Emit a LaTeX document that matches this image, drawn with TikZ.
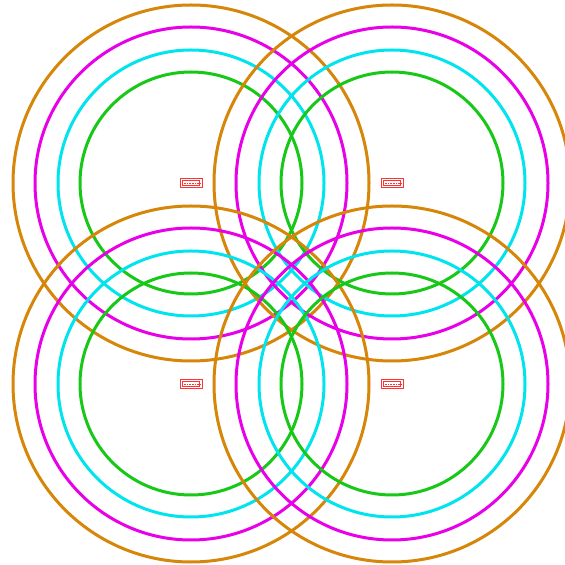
\documentclass[tikz,border=0pt]{standalone}
\begin{document}
\begin{tikzpicture}[x=1pt,y=1pt,
  ringO/.style={draw={rgb,255:red,214;green,134;blue,8}, line width=3pt},
  ringM/.style={draw={rgb,255:red,232;green,0;blue,232}, line width=3pt},
  ringC/.style={draw={rgb,255:red,0;green,228;blue,238}, line width=3pt},
  ringG/.style={draw={rgb,255:red,24;green,200;blue,24}, line width=3pt},
  tag/.style={draw=red!80, line width=0.9pt, minimum width=22pt, minimum height=9pt, inner sep=0pt},
  tagin/.style={draw=red!80, line width=0.7pt, minimum width=17pt, minimum height=5pt, inner sep=0pt}]
\path[fill=white] (0,0) rectangle (565,565);
\useasboundingbox (0,0) rectangle (565,565);
\foreach \n/\cx/\cy in {a/191/382, b/392/382, c/191/181, d/392/181}{
  \coordinate (p\n) at (\cx,\cy);
  \draw[ringO] (p\n) circle [radius=178];
  \draw[ringM] (p\n) circle [radius=156];
  \draw[ringC] (p\n) circle [radius=133];
  \draw[ringG] (p\n) circle [radius=111];
  \node[tag] (t\n) at (p\n) {};
  \node[tagin] (u\n) at (p\n) {};
  \draw[red!80, line width=0.7pt, dash pattern=on 0.8pt off 0.8pt] (u\n.west) -- (u\n.east);
}
\end{tikzpicture}
\end{document}
